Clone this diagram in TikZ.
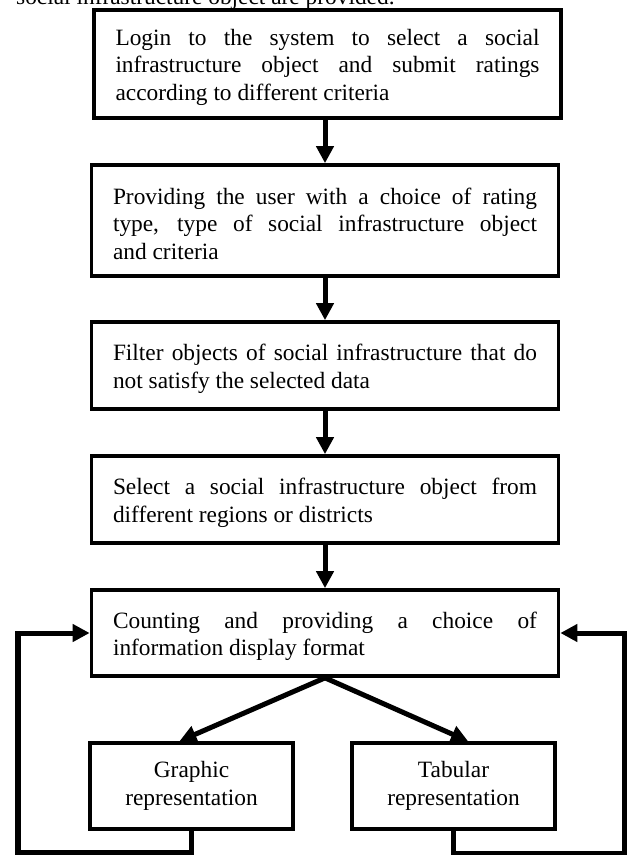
\documentclass[tikz,border=0pt]{standalone}
\usepackage{fontspec}
\setmainfont{Liberation Serif}
\usetikzlibrary{arrows.meta}

\tolerance=10000
\hyphenpenalty=10000

\tikzset{
  stepbox/.style={draw, line width=2.1pt, text width=8.48cm, inner xsep=0.43cm,
    inner ysep=0pt, align=justify, font=\fontsize{13.3}{15.6}\selectfont,
    execute at begin node=\rule{0pt}{13pt}},
  outbox/.style={draw, line width=2.1pt, minimum width=4.06cm, minimum height=1.72cm,
    align=center, font=\fontsize{13.3}{15.6}\selectfont},
  flow/.style={line width=2.85pt, -{Triangle[length=0.34cm,width=0.34cm]}},
}

\begin{document}
\begin{tikzpicture}
  \useasboundingbox (0,0) rectangle (12.56,-17.1);

  \node[anchor=base west, font=\fontsize{13.3}{15.6}\selectfont] (caption) at (0.2,-0.1)
    {social infrastructure object are provided.};

  \node[stepbox, minimum height=2.16cm] (login)   at (6.55,-1.28)
    {Login to the system to select a social\linebreak infrastructure object and submit ratings\linebreak according to different criteria};
  \node[stepbox, minimum height=2.22cm] (choice)  at (6.5,-4.41)
    {Providing the user with a choice of rating\linebreak type, type of social infrastructure object\linebreak and criteria};
  \node[stepbox, minimum height=1.74cm] (filter)  at (6.5,-7.31)
    {Filter objects of social infrastructure that do\linebreak not satisfy the selected data};
  \node[stepbox, minimum height=1.74cm] (select)  at (6.5,-9.99)
    {Select a social infrastructure object from\linebreak different regions or districts};
  \node[stepbox, minimum height=1.72cm] (count)   at (6.5,-12.66)
    {Counting and providing a choice of\linebreak information display format};

  \node[outbox] (graphic) at (3.83,-15.72) {Graphic\\representation};
  \node[outbox] (tabular) at (9.07,-15.72) {Tabular\\representation};

  \coordinate (gbot) at (0.36,-17.05);
  \coordinate (tbot) at (12.48,-17.06);

  \draw[flow] (login.south -| choice.north) -- (choice.north);
  \draw[flow] (choice) -- (filter);
  \draw[flow] (filter) -- (select);
  \draw[flow] (select) -- (count);
  \draw[flow] (count.south) -- (graphic.105);
  \draw[flow] (count.south) -- (tabular.72);

  % back to the choice of format
  \draw[flow] (graphic.south) |- (gbot) |- (count.west);
  \draw[flow] (tabular.south) |- (tbot) |- (count.east);

\end{tikzpicture}
\end{document}
